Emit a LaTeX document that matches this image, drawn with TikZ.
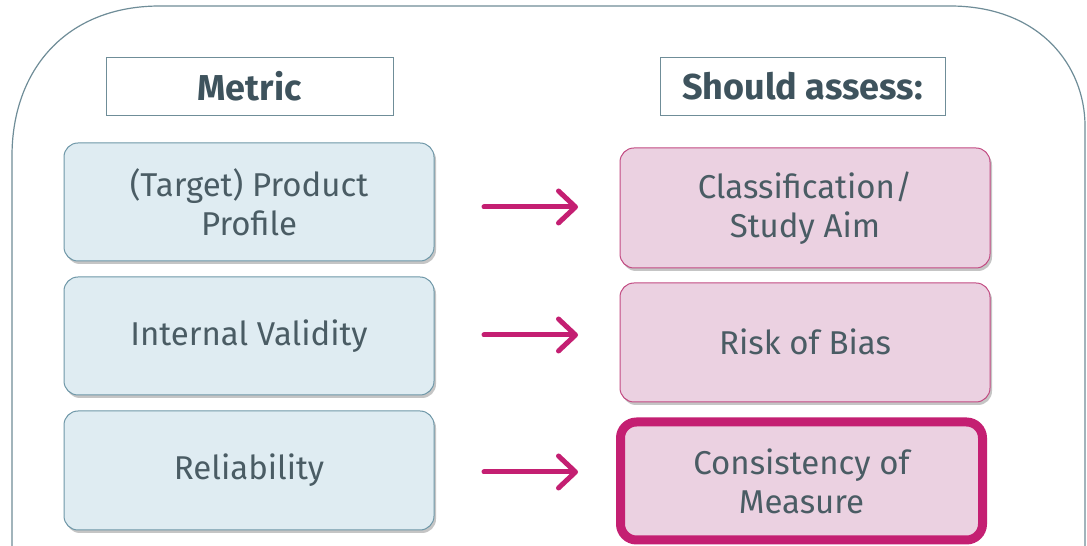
\documentclass[tikz,border=0pt]{standalone}
\usepackage{fontspec}
\setmainfont{Fira Sans}
\usetikzlibrary{arrows.meta,shadows}
\definecolor{frame}{HTML}{6F8D98}
\definecolor{txt}{HTML}{4A5C64}
\definecolor{hdr}{HTML}{3E535D}
\definecolor{bluefill}{HTML}{DFECF2}
\definecolor{blueedge}{HTML}{6E97A8}
\definecolor{pinkfill}{HTML}{EBD1E1}
\definecolor{pinkedge}{HTML}{C24B82}
\definecolor{magenta}{HTML}{C41F72}
\tikzset{
  hdrbox/.style={draw=frame, line width=1pt, fill=white, minimum width=287pt, minimum height=58pt, font=\fontsize{36}{40}\selectfont\bfseries, text=hdr},
  bluebox/.style={draw=blueedge, line width=1pt, fill=bluefill, rounded corners=14pt, minimum width=370pt, minimum height=118pt, align=center, font=\fontsize{33}{39}\selectfont, text=txt, drop shadow={shadow xshift=2pt, shadow yshift=-3pt, fill=black!45, opacity=0.5}},
  pinkbox/.style={draw=pinkedge, line width=1pt, fill=pinkfill, rounded corners=14pt, minimum width=370pt, minimum height=119pt, align=center, font=\fontsize{33}{39}\selectfont, text=txt, drop shadow={shadow xshift=2pt, shadow yshift=-3pt, fill=black!45, opacity=0.5}},
  arr/.style={draw=magenta, line width=5pt, line cap=round, -{Straight Barb[round, length=17pt, width=32pt, line width=5pt]}}
}
\begin{document}
\begin{tikzpicture}[x=1pt,y=1pt]
\useasboundingbox (0,0) rectangle (1087,546);
\fill[white] (0,0) rectangle (1087,546);
% outer frame
\draw[frame, line width=1.2pt] (12,-20) -- (12,390) .. controls (12,475) and (65,540) .. (160,540) -- (950,540) .. controls (1040,540) and (1085,480) .. (1085,420) -- (1085,-20);
% headers
\node[hdrbox] (metric) at (249.5,459) {\raisebox{2pt}{Metric}};
\node[hdrbox, minimum width=285pt] (assess) at (802.5,459) {\raisebox{2pt}{Should assess:}};
% left boxes
\node[bluebox] (b1) at (249,344) {(Target) Product\\Profile};
\node[bluebox] (b2) at (249,210) {Internal Validity};
\node[bluebox, minimum height=119pt] (b3) at (249,75.5) {Reliability};
% right boxes
\node[pinkbox, minimum height=120pt] (p1) at (805,338) {Classification/\\Study Aim};
\node[pinkbox] (p2) at (805,203.5) {\raisebox{2pt}{Risk of Bias}};
\node[pinkbox, draw=magenta, line width=9pt, rounded corners=16pt, minimum width=362pt, minimum height=118pt] (p3) at (801.5,65) {Consistency of\\Measure};
% arrows
\coordinate (a1s) at (484,339); \coordinate (a1e) at (578,339);
\coordinate (a2s) at (484,211); \coordinate (a2e) at (578,211);
\coordinate (a3s) at (484,74); \coordinate (a3e) at (578,74);
\draw[arr] (a1s) -- (a1e);
\draw[arr] (a2s) -- (a2e);
\draw[arr] (a3s) -- (a3e);
\end{tikzpicture}
\end{document}
